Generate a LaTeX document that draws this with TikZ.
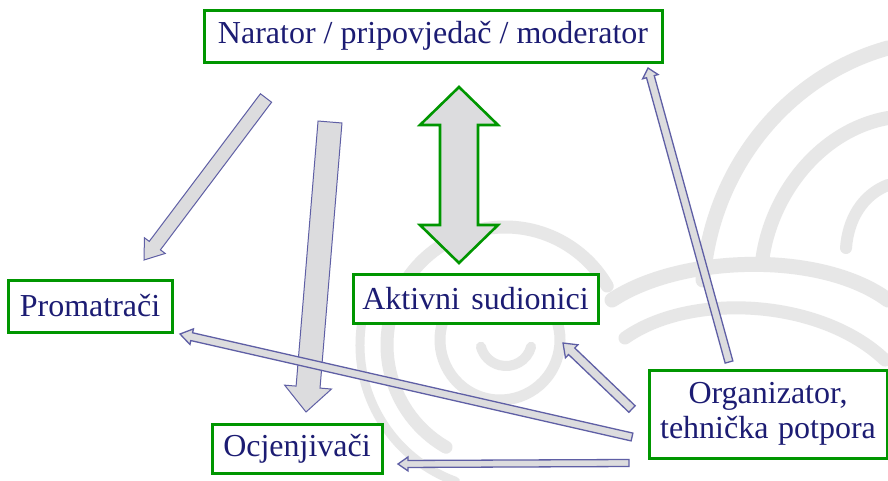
\documentclass[tikz,border=0pt]{standalone}
\usepackage{fontspec}
\setmainfont{Liberation Serif}
\usetikzlibrary{calc}
\definecolor{boxgreen}{RGB}{0,150,0}
\definecolor{txtnavy}{RGB}{28,28,115}
\definecolor{arrline}{RGB}{95,95,165}
\definecolor{arrfill}{RGB}{220,220,222}
\definecolor{wmark}{RGB}{231,231,231}
\newcommand\blockarr[6]{%
  \coordinate (tmpH) at ($(#3)!#6!(#2)$);
  \draw[#1] ($(#2)!#4!90:(#3)$) -- ($(tmpH)!#4!90:(#3)$) -- ($(tmpH)!#5!90:(#3)$) -- (#3)
    -- ($(tmpH)!#5!-90:(#3)$) -- ($(tmpH)!#4!-90:(#3)$) -- ($(#2)!#4!-90:(#3)$) -- cycle;}
\newcommand\blockdarr[6]{%
  \coordinate (tmpA) at ($(#2)!#6!(#3)$);
  \coordinate (tmpB) at ($(#3)!#6!(#2)$);
  \draw[#1] (#2) -- ($(tmpA)!#5!90:(#3)$) -- ($(tmpA)!#4!90:(#3)$) -- ($(tmpB)!#4!90:(#3)$)
    -- ($(tmpB)!#5!90:(#3)$) -- (#3) -- ($(tmpB)!#5!-90:(#3)$) -- ($(tmpB)!#4!-90:(#3)$)
    -- ($(tmpA)!#4!-90:(#3)$) -- ($(tmpA)!#5!-90:(#3)$) -- cycle;}
\tikzset{
  box/.style={draw=boxgreen, line width=3pt, fill=white, text=txtnavy, inner sep=0pt,
    font=\fontsize{32}{35}\selectfont, align=center},
  thinarr/.style={draw=arrline, fill=arrfill, line width=1.3pt, line join=miter},
  bigarr/.style={draw=arrline, fill=arrfill, line width=1pt, line join=miter},
  greenarr/.style={draw=boxgreen, fill=arrfill, line width=2.6pt, line join=miter},
  wm/.style={draw=wmark, line cap=round}
}
\begin{document}
\begin{tikzpicture}[x=1pt,y=-1pt]
\useasboundingbox (0,0) rectangle (888,480);
\fill[white] (0,0) rectangle (888,480);
% background watermark
\draw[wm, line width=10pt] ([shift={(15:26)}]506,340) arc[start angle=15, end angle=165, radius=26];
\draw[wm, line width=11pt] ([shift={(200:60)}]500,340) arc[start angle=200, end angle=-20, radius=60];
\draw[wm, line width=13pt] ([shift={(120:118)}]505,345) arc[start angle=120, end angle=330, radius=118];
\draw[wm, line width=9pt] ([shift={(110:145)}]505,345) arc[start angle=110, end angle=190, radius=145];
\draw[wm, line width=15pt] (888,48) .. controls (790,75) and (712,165) .. (703,280);
\draw[wm, line width=14pt] (888,118) .. controls (820,130) and (770,195) .. (762,262);
\draw[wm, line width=12pt] (888,185) .. controls (862,195) and (848,220) .. (846,248);
\draw[wm, line width=15pt] (612,300) .. controls (680,255) and (820,250) .. (888,300);
\draw[wm, line width=13pt] (625,338) .. controls (690,292) and (820,298) .. (885,360);
% boxes
\node[box, minimum width=458pt, minimum height=52pt] (nar) at (433,36) {Narator / pripovjedač / moderator};
\node[box, minimum width=164pt, minimum height=52pt] (prom) at (90,306) {Promatrači};
\node[box, minimum width=245pt, minimum height=49pt] (akt) at (475.5,298.5) {Aktivni\hspace{0.35em}sudionici};
\node[box, minimum width=170pt, minimum height=49pt] (ocj) at (297,448.5) {Ocjenjivači};
\node[box, minimum width=238pt, minimum height=88pt] (org) at (768,414) {Organizator,\\tehnička\hspace{0.3em}potpora};
% connector end points
\coordinate (narA) at (266,98);   \coordinate (promA) at (144,260);
\coordinate (narB) at (330,122);  \coordinate (ocjB) at (306,412);
\coordinate (narC) at (459,87);   \coordinate (aktC) at (459,263);
\coordinate (orgD) at (729,362);  \coordinate (narD) at (648,68);
\coordinate (orgE) at (632,409);  \coordinate (aktE) at (563,343);
\coordinate (orgF) at (632,437);  \coordinate (promF) at (180,334);
\coordinate (orgG) at (629,463);  \coordinate (ocjG) at (398,464);
% arrows
\blockarr{bigarr}{narA}{promA}{7pt}{13pt}{18pt}
\blockarr{bigarr}{narB}{ocjB}{12pt}{23.5pt}{25pt}
\blockdarr{greenarr}{narC}{aktC}{19pt}{39pt}{38pt}
\blockarr{thinarr}{orgD}{narD}{4pt}{8pt}{9pt}
\blockarr{thinarr}{orgE}{aktE}{4.5pt}{9pt}{12pt}
\blockarr{thinarr}{orgF}{promF}{4pt}{8pt}{12pt}
\blockarr{thinarr}{orgG}{ocjG}{3.5pt}{7pt}{10pt}
\end{tikzpicture}
\end{document}
